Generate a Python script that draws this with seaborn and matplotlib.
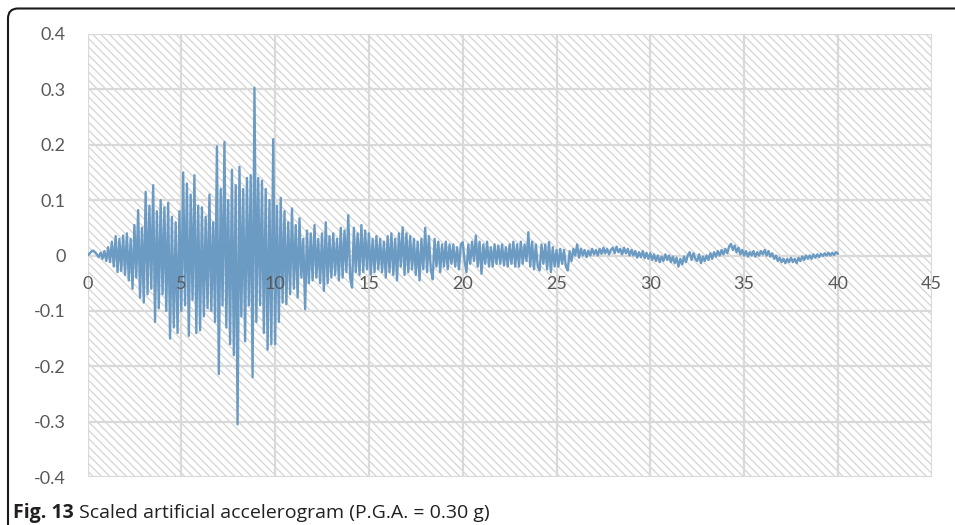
import numpy as np
import pandas as pd
import matplotlib
matplotlib.use("Agg")
import matplotlib.pyplot as plt
from matplotlib.patches import Rectangle, FancyBboxPatch
import seaborn as sns

# ---------------- data ----------------
dt = 0.1  # sampling step of the accelerogram [s]

acc_0_10 = [
    0.000, 0.003, 0.007, 0.009, 0.006, 0.002, -0.003, 0.005, -0.006, 0.008,
    -0.010, 0.015, -0.012, 0.025, -0.020, 0.035, -0.030, 0.030, -0.028, 0.036,
    -0.035, 0.040, -0.045, 0.030, -0.060, 0.055, -0.040, 0.082, -0.076, 0.050,
    -0.085, 0.115, -0.070, 0.090, -0.060, 0.127, -0.120, 0.080, -0.095, 0.100,
    -0.070, 0.087, -0.100, 0.095, -0.150, 0.070, -0.130, 0.060, -0.140, 0.080,
    -0.100, 0.150, -0.090, 0.130, -0.145, 0.110, -0.080, 0.145, -0.140, 0.090,
    -0.135, 0.087, -0.110, 0.070, -0.095, 0.110, -0.100, 0.060, -0.120, 0.197,
    -0.214, 0.120, -0.090, 0.205, -0.130, 0.100, -0.160, 0.155, -0.180, 0.127,
    -0.305, 0.160, -0.110, 0.120, -0.155, 0.140, -0.090, 0.145, -0.220, 0.303,
    -0.120, 0.140, -0.090, 0.135, -0.140, 0.120, -0.170, 0.100, -0.160, 0.210,
]
acc_10_20 = [
    -0.160, 0.090, -0.120, 0.104, -0.085, 0.080, -0.088, 0.060, -0.070, 0.085,
    -0.060, 0.055, -0.076, 0.067, -0.040, 0.030, -0.097, 0.045, -0.050, 0.040,
    -0.045, 0.055, -0.040, 0.030, -0.050, 0.040, -0.064, 0.060, -0.050, 0.035,
    -0.040, 0.040, -0.035, 0.030, -0.045, 0.050, -0.040, 0.045, -0.030, 0.073,
    -0.040, -0.058, 0.050, -0.030, 0.040, -0.035, 0.055, -0.030, 0.045, -0.025,
    0.040, -0.035, 0.030, -0.030, 0.035, -0.025, 0.030, -0.030, 0.025, -0.040,
    0.035, -0.030, 0.040, -0.035, 0.030, -0.045, 0.040, -0.020, 0.051, -0.035,
    0.040, -0.030, 0.035, -0.025, 0.030, -0.035, 0.025, -0.045, 0.030, -0.025,
    0.050, -0.030, 0.035, -0.025, -0.043, 0.030, -0.020, 0.025, -0.030, 0.020,
    -0.020, 0.025, -0.025, 0.020, -0.015, 0.020, -0.020, 0.015, -0.025, 0.020,
]
acc_20_30 = [
    0.024, -0.010, -0.030, 0.020, -0.015, 0.025, -0.010, 0.036, -0.020, 0.025,
    -0.033, 0.020, -0.015, 0.025, -0.020, 0.015, -0.020, 0.020, -0.015, 0.018,
    -0.015, 0.020, -0.018, 0.015, -0.020, 0.020, -0.015, 0.025, -0.020, 0.020,
    -0.020, 0.025, -0.015, 0.020, -0.010, 0.042, -0.020, 0.025, -0.025, 0.020,
    -0.020, -0.027, 0.020, -0.015, 0.020, -0.025, 0.024, -0.030, 0.015, -0.020,
    0.010, -0.020, 0.012, -0.015, 0.010, -0.020, -0.027, 0.008, -0.010, 0.012,
    0.000, 0.020, -0.004, 0.012, 0.000, 0.010, -0.003, 0.009, 0.000, 0.012,
    0.002, 0.010, 0.000, 0.012, 0.003, 0.014, 0.004, 0.012, 0.002, 0.010,
    0.014, 0.004, 0.016, 0.006, 0.012, 0.002, 0.014, 0.004, 0.012, 0.000,
    0.010, 0.000, 0.008, -0.004, 0.006, -0.003, 0.008, -0.005, 0.005, -0.006,
]
acc_30_40 = [
    0.004, -0.008, 0.002, -0.010, 0.000, -0.012, -0.002, -0.010, 0.002, -0.008,
    0.000, -0.012, -0.002, -0.014, -0.004, -0.020, -0.006, -0.016, -0.002, -0.012,
    0.000, 0.006, -0.008, 0.004, -0.006, -0.010, 0.002, -0.014, -0.002, -0.010,
    0.000, -0.008, 0.004, -0.006, 0.006, -0.002, 0.008, 0.000, 0.010, 0.002,
    0.012, 0.004, 0.016, 0.021, 0.010, 0.018, 0.006, 0.014, 0.002, 0.010,
    0.000, 0.008, -0.002, 0.006, 0.000, 0.008, -0.002, 0.006, 0.000, 0.008,
    0.002, 0.010, 0.000, 0.008, -0.002, 0.004, -0.006, 0.000, -0.010, -0.004,
    -0.012, -0.006, -0.014, -0.006, -0.012, -0.004, -0.012, -0.006, -0.014, -0.004,
    -0.010, -0.002, -0.008, 0.000, -0.006, 0.000, -0.006, 0.002, -0.004, 0.002,
    -0.003, 0.003, -0.001, 0.004, 0.000, 0.005, 0.000, 0.005, 0.001, 0.006,
    0.003,
]

x_ticks = [0, 5, 10, 15, 20, 25, 30, 35, 40, 45]
x_tick_labels = ["0", "5", "10", "15", "20", "25", "30", "35", "40", "45"]
y_ticks = [-0.4, -0.3, -0.2, -0.1, 0.0, 0.1, 0.2, 0.3, 0.4]
y_tick_labels = ["-0.4", "-0.3", "-0.2", "-0.1", "0", "0.1", "0.2", "0.3", "0.4"]

caption_bold = "Fig. 13"
caption_rest = " Scaled artificial accelerogram (P.G.A. = 0.30 g)"

# ---------------- build table ----------------
acc = np.array(acc_0_10 + acc_10_20 + acc_20_30 + acc_30_40)
time = np.arange(len(acc)) * dt
df = pd.DataFrame({"t": time, "a": acc})

# ---------------- style ----------------
sns.set_theme(style="white")
plt.rcParams["font.family"] = ["Lato", "DejaVu Sans"]
plt.rcParams["hatch.linewidth"] = 0.9

W, H = 955, 525
fig = plt.figure(figsize=(W / 100, H / 100), dpi=100)
ax = fig.add_axes([87.5 / W, 1 - 477 / H, (931.7 - 87.5) / W, (477 - 34) / H])
ax.set_facecolor("white")

# hatched plot area
ax.add_patch(Rectangle((0, 0), 1, 1, transform=ax.transAxes, facecolor="white",
                       edgecolor="#d4d4d4", hatch="\\\\\\\\", linewidth=0, zorder=0))

# grid lines (below the signal)
grid_kw = dict(color="#d9d9d9", linewidth=1.6, zorder=1)
for xv in x_ticks:
    ax.axvline(xv, **grid_kw)
for yv in y_ticks:
    ax.axhline(yv, **grid_kw)

sns.lineplot(data=df, x="t", y="a", ax=ax, color="#6b9ac3", linewidth=1.7,
             estimator=None, errorbar=None, zorder=2)

ax.set_xlim(0, 45)
ax.set_ylim(-0.4, 0.4)
ax.set_xticks(x_ticks)
ax.set_xticklabels(x_tick_labels)
ax.set_yticks(y_ticks)
ax.set_yticklabels(y_tick_labels)
ax.set_xlabel("")
ax.set_ylabel("")
ax.grid(False)
ax.set_axisbelow(False)

for s in ax.spines.values():
    s.set_visible(False)
ax.spines["bottom"].set_visible(True)
ax.spines["bottom"].set_position(("data", 0))
ax.spines["bottom"].set_color("none")

ax.tick_params(axis="both", length=0, labelsize=13, labelcolor="#595959")
ax.tick_params(axis="y", pad=15.5)
ax.tick_params(axis="x", pad=15)

# outer frame with rounded top-left corner
frame = FancyBboxPatch((8, -100), 1100, (H - 8.5) + 100,
                       boxstyle="round,pad=0,rounding_size=10",
                       transform=None, facecolor="none", edgecolor="#1a1a1a",
                       linewidth=1.5, clip_on=False)
fig.patches.append(frame)

# caption
cap_y = 1 - 518 / H
t1 = fig.text(13 / W, cap_y, caption_bold, fontsize=14, fontweight="bold",
              family=["Open Sans", "DejaVu Sans"], color="#231f20",
              va="baseline", ha="left")
fig.canvas.draw()
bb = t1.get_window_extent()
fig.text(bb.x1 / W, cap_y, caption_rest, fontsize=14,
         family=["Open Sans", "DejaVu Sans"], color="#231f20",
         va="baseline", ha="left")

fig.savefig("out.png", dpi=100)
